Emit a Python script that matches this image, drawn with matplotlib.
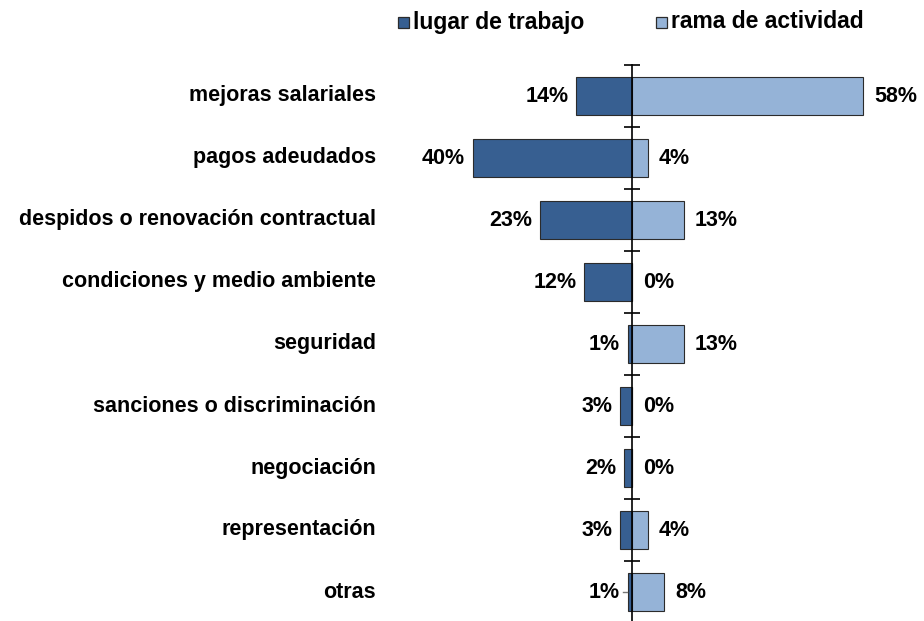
import numpy as np
import matplotlib.pyplot as plt
from matplotlib.patches import Rectangle

plt.rcParams['font.family'] = ['Liberation Sans', 'DejaVu Sans']
plt.rcParams['font.weight'] = 'bold'

categories = ["mejoras salariales", "pagos adeudados", "despidos o renovación contractual",
              "condiciones y medio ambiente", "seguridad", "sanciones o discriminación",
              "negociación", "representación", "otras"]
lugar = [14, 40, 23, 12, 1, 3, 2, 3, 1]
rama = [58, 4, 13, 0, 13, 0, 0, 4, 8]
series_names = ["lugar de trabajo", "rama de actividad"]

dark = "#375F91"
light = "#95B3D7"
edge = "#2b2b2b"
fs = 15.5

fig = plt.figure(figsize=(9.24, 6.21), dpi=100)
ax = fig.add_axes([0, 0, 1, 1 - 65 / 621])
px = 3.98  # pixels per percent
ax.set_xlim(-632 / px, (924 - 632) / px)
ax.set_ylim(8.5 - 2 / 62, -0.5)

y = np.arange(len(categories))
ax.barh(y, [-v for v in lugar], height=0.61, color=dark, edgecolor=edge, linewidth=0.8)
ax.barh(y, rama, height=0.61, color=light, edgecolor=edge, linewidth=0.8)

for i in range(len(categories)):
    ax.text(-lugar[i] - 2.0, y[i], f"{lugar[i]}%", ha="right", va="center", fontsize=fs)
    ax.text(rama[i] + 2.8, y[i], f"{rama[i]}%", ha="left", va="center", fontsize=fs)
    ax.text(-64.3, y[i], categories[i], ha="right", va="center", fontsize=fs)

# small leader line on the last label
ax.plot([-2.2, -lugar[-1] - 0.3], [y[-1], y[-1]], color="#777777", lw=1)

for s in ["top", "right", "bottom"]:
    ax.spines[s].set_visible(False)
ax.spines["left"].set_position(("data", 0))
ax.spines["left"].set_linewidth(1.2)
ax.set_yticks(np.arange(-0.5, len(categories) - 0.5, 1))
ax.set_yticklabels([])
ax.tick_params(axis="y", direction="inout", length=12, width=1.2)
ax.set_xticks([])

# legend drawn by hand so the squares sit where the original has them
W, H = 924, 621
for x0, name, col in [(398, series_names[0], dark), (656, series_names[1], light)]:
    fig.patches.append(Rectangle((x0 / W, 1 - 28 / H), 11 / W, 11 / H, transform=fig.transFigure,
                                 facecolor=col, edgecolor=edge, linewidth=0.9))
    fig.text((x0 + 15) / W, 1 - 22 / H, name, ha="left", va="center", fontsize=16.5)

fig.savefig("out.png", dpi=100)
